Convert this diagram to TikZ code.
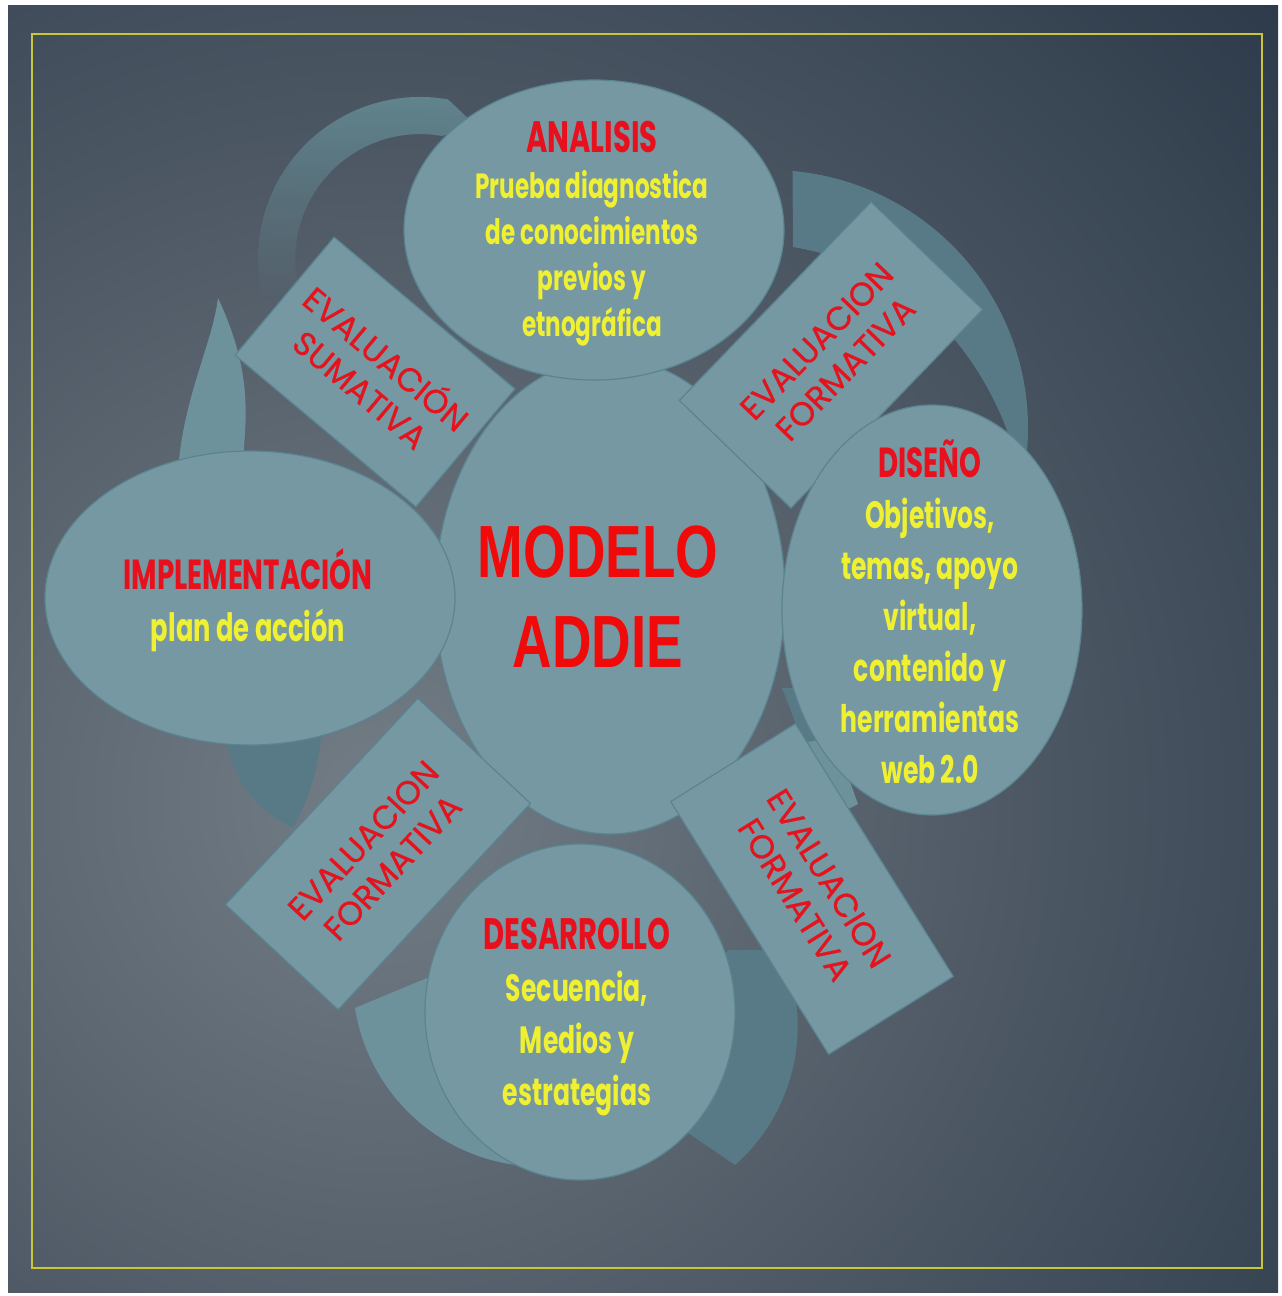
\documentclass[tikz,border=0pt]{standalone}
\usepackage{fontspec}
\usetikzlibrary{shapes.geometric,fadings}

\newfontfamily\stagefont{Poppins}[FakeStretch=0.66]
\newfontfamily\evalfont{Poppins}[FakeBold=0.6]
\newfontfamily\modelfont{Liberation Sans}[FakeStretch=0.74]

\definecolor{bgcenter}{HTML}{737D86}
\definecolor{bgmid}{HTML}{4E5965}
\definecolor{bgouter}{HTML}{182839}
\definecolor{framegold}{HTML}{C9C63A}
\definecolor{stagefill}{HTML}{7598A3}
\definecolor{stageline}{HTML}{5A8490}
\definecolor{swooshdark}{HTML}{587A86}
\definecolor{swooshmid}{HTML}{62868F}
\definecolor{swooshlight}{HTML}{6E929C}
\definecolor{titlered}{HTML}{E8101C}
\definecolor{evalred}{HTML}{E3141E}
\definecolor{stageyellow}{HTML}{F0F032}
\definecolor{modelred}{HTML}{F00A0A}

\pgfdeclareradialshading{bgglow}{\pgfpoint{0bp}{0bp}}{color(0bp)=(bgcenter); color(10bp)=(bgmid); color(25bp)=(bgouter); color(50bp)=(bgouter)}

\begin{document}
\begin{tikzpicture}[x=1pt,y=-1pt,
	stage/.style={shape=ellipse,draw=stageline,fill=stagefill,line width=1.2pt,inner sep=0pt},
	stagetext/.style 2 args={align=center,text=stageyellow,font=\stagefont\bfseries\fontsize{#1}{#2}\selectfont},
	stagetitle/.style={font=\stagefont\bfseries\fontsize{44}{52}\selectfont,text=titlered},
	evalbox/.style={shape=rectangle,draw=stageline,fill=stagefill,line width=1.2pt,align=center,text=evalred,font=\evalfont\fontsize{33}{40}\selectfont},
	]

	% fondo y marco
	\useasboundingbox (0,0) rectangle (1282,1296);
	\fill[white] (0,0) rectangle (1282,1296);
	\begin{scope}
		\clip (8,5) rectangle (1278,1292);
		\shade[shading=bgglow] (380,800) circle (1560);
	\end{scope}
	\draw[framegold,line width=2pt] (32,34) rectangle (1262,1268);

	% flechas del ciclo (detras)
	\fill[swooshdark] (770,428) ++(-85:258) arc[start angle=-85,end angle=12,radius=258] .. controls (1000,380) and (930,270) .. (793,247) -- cycle;
	\fill[swooshmid,path fading=south] (420,259) ++(165:162) arc[start angle=165,end angle=280,radius=162] -- (476,126) -- (442,136) arc[start angle=280,end angle=165,radius=125] -- cycle;
	\fill[swooshlight] (218,298) .. controls (212,345) and (184,395) .. (178,470) -- (242,470) .. controls (246,420) and (254,375) .. (218,298) -- cycle;
	\fill[swooshdark] (222,720) .. controls (228,775) and (255,810) .. (293,828) .. controls (308,800) and (320,770) .. (322,720) -- cycle;
	\fill[swooshlight] (427,978) -- (355,1008) arc[start angle=171,end angle=80,radius=188] -- (560,1100) -- cycle;
	\fill[swooshdark] (728,950) -- (778,950) .. controls (810,1000) and (808,1100) .. (735,1165) -- (640,1100) -- cycle;
	\fill[swooshdark] (782,688) -- (824,688) -- (832,762) -- (810,760) -- cycle;
	\fill[swooshlight] (808,742) -- (834,738) -- (858,804) -- (846,810) -- cycle;

	% centro
	\node[stage,minimum width=350,minimum height=476] (centro) at (610,596) {};

	% evaluaciones
	\node[evalbox,rotate=-40,minimum width=236,minimum height=154] (sumativa) at (375,372) {EVALUACIÓN\\SUMATIVA};
	\node[evalbox,rotate=46,minimum width=276,minimum height=155] (formativa1) at (831,355) {EVALUACION\\FORMATIVA};
	\node[evalbox,rotate=-58,minimum width=298,minimum height=147] (formativa2) at (812,889) {EVALUACION\\FORMATIVA};
	\node[evalbox,rotate=47,minimum width=282,minimum height=154] (formativa3) at (378,854) {EVALUACION\\FORMATIVA};

	% fases
	\node[stage,minimum width=380,minimum height=300] (analisis) at (594,230) {};
	\node[stage,minimum width=300,minimum height=410] (diseno) at (932,610) {};
	\node[stage,minimum width=410,minimum height=294] (implementacion) at (250,598) {};
	\node[stage,minimum width=310,minimum height=336] (desarrollo) at (580,1012) {};

	% textos
	\node[font=\modelfont\bfseries\fontsize{74}{90}\selectfont,text=modelred,align=center] (modelo) at (598,597) {MODELO\\ADDIE};
	\node[stagetext={35}{46}] (analisis-txt) at (592,234) {\textcolor{titlered}{\fontsize{44}{50}\selectfont ANALISIS}\\Prueba diagnostica\\de conocimientos\\previos y\\etnográfica};
	\node[stagetext={38}{51}] (diseno-txt) at (930,612) {\textcolor{titlered}{\fontsize{42}{51}\selectfont DISEÑO}\\Objetivos,\\temas, apoyo\\virtual,\\contenido y\\herramientas\\web 2.0};
	\node[stagetext={39}{52}] (implementacion-txt) at (248,600) {\textcolor{titlered}{\fontsize{42}{52}\selectfont IMPLEMENTACIÓN}\\plan de acción};
	\node[stagetext={38}{52}] (desarrollo-txt) at (577,1017) {\textcolor{titlered}{\fontsize{44}{52}\selectfont DESARROLLO}\\Secuencia,\\Medios y\\estrategias};

\end{tikzpicture}
\end{document}
